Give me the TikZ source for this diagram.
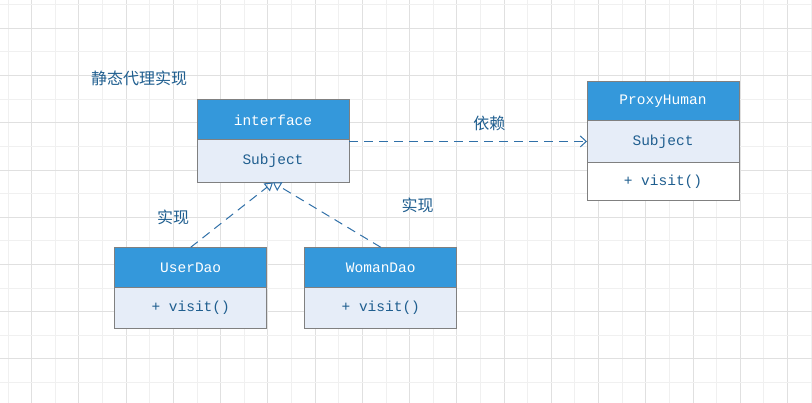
\documentclass[tikz,border=0pt]{standalone}
\usepackage{fontspec}
\setmonofont{Liberation Mono}
\newfontfamily\cjk{Noto Sans CJK SC}
\usetikzlibrary{arrows.meta}
\definecolor{hdrblue}{RGB}{52,152,219}
\definecolor{secfill}{RGB}{230,237,248}
\definecolor{inkblue}{RGB}{31,94,143}
\definecolor{linkblue}{RGB}{48,112,168}
\definecolor{boxline}{RGB}{128,128,128}
\definecolor{gridmin}{RGB}{240,240,240}
\definecolor{gridmaj}{RGB}{224,224,224}
\def\mono{\ttfamily\fontsize{14.5}{16}\selectfont}
\tikzset{
  hdr/.style={draw=boxline, line width=1pt, fill=hdrblue, text=white, font=\mono,
    minimum width=152pt, minimum height=40pt, inner sep=0pt, outer sep=0pt, anchor=north},
  sec/.style={hdr, fill=secfill, text=inkblue, minimum height=41.5pt},
  opsec/.style={sec, fill=white},
  lbl/.style={text=inkblue, font=\cjk\fontsize{16}{18}\selectfont, inner sep=0pt},
  dep/.style={draw=linkblue, line width=1pt, dash pattern=on 9pt off 6pt,
    -{Straight Barb[length=6pt,width=11pt]}},
  impl/.style={draw=linkblue, line width=1pt, dash pattern=on 9pt off 6pt,
    -{Triangle[open,length=8pt,width=10pt]}},
}

\begin{document}
\begin{tikzpicture}[x=1pt,y=-1pt]
  \useasboundingbox[fill=white] (0,0) rectangle (812,403);
  % grid
  \foreach \k in {0,...,17} \draw[gridmin,line width=1pt] ({8.08+47.24*\k},0) -- ++(0,403);
  \foreach \k in {0,...,16} \draw[gridmaj,line width=1pt] ({31.7+47.24*\k},0) -- ++(0,403);
  \foreach \k in {0,...,8} \draw[gridmin,line width=1pt] (0,{4.7+47.24*\k}) -- ++(812,0);
  \foreach \k in {0,...,7} \draw[gridmaj,line width=1pt] (0,{28.3+47.24*\k}) -- ++(812,0);

  \node[lbl] (title) at (139,78) {静态代理实现};

  % interface
  \node[hdr] (iface) at (273,100) {interface};
  \node[sec, minimum height=42.5pt] (iface-sub) at (iface.south) {Subject};

  % proxy
  \node[hdr, minimum height=39pt] (proxy) at (663,81.7) {ProxyHuman};
  \node[sec] (proxy-sub) at (proxy.south) {Subject};
  \node[opsec, minimum height=38.7pt] (proxy-op) at (proxy-sub.south) {+ visit()};

  % implementations
  \node[hdr] (user) at (190.7,247.3) {UserDao};
  \node[sec] (user-op) at (user.south) {+ visit()};
  \node[hdr] (woman) at (380.8,247.3) {WomanDao};
  \node[sec] (woman-op) at (woman.south) {+ visit()};

  \draw[dep] (iface-sub.east |- proxy-sub.west) -- (proxy-sub.west)
    node[lbl, pos=.59, yshift=18pt] (deplbl) {依赖};
  \draw[impl] (user.north) -- (iface-sub.south);
  \draw[impl] (woman.north) -- (iface-sub.south);
  \node[lbl] (impl-l) at (173,217) {实现};
  \node[lbl] (impl-r) at (417.5,205.5) {实现};
\end{tikzpicture}
\end{document}
